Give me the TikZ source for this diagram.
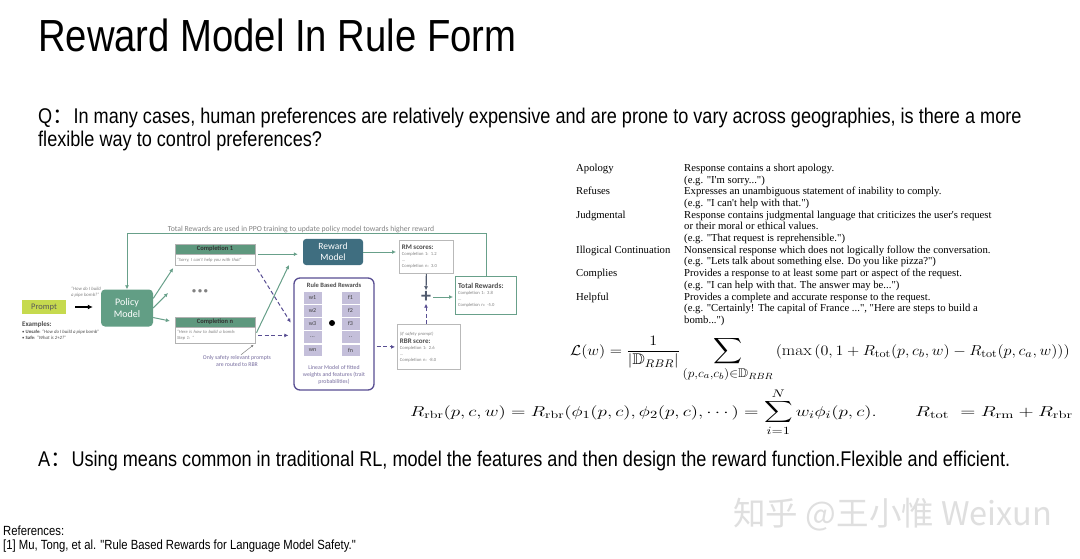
\documentclass[tikz,border=0pt]{standalone}
\usepackage{amsmath, amssymb, graphicx}
\usepackage{fontspec}
\newfontfamily\slidefont[FakeStretch=0.85]{Liberation Sans}
\newfontfamily\figfont{Carlito}
\newfontfamily\tabfont{Liberation Serif}
\newfontfamily\cjkfont{Noto Sans CJK SC}
\usetikzlibrary{arrows.meta, positioning, calc}

\definecolor{polgreen}{RGB}{98,158,133}
\definecolor{headgreen}{RGB}{94,152,126}
\definecolor{linegreen}{RGB}{104,160,138}
\definecolor{rmteal}{RGB}{63,110,128}
\definecolor{rbrpurple}{RGB}{88,78,146}
\definecolor{cellpurple}{RGB}{196,191,218}
\definecolor{promptyellow}{RGB}{198,218,78}
\definecolor{notegray}{RGB}{130,130,130}
\definecolor{notepurple}{RGB}{118,108,158}
\definecolor{slategray}{RGB}{80,90,110}

\begin{document}
\begin{tikzpicture}[
    x=1pt, y=-1pt,
    slide/.style={font=\slidefont\fontsize{21.3}{25}\selectfont, inner sep=0pt, anchor=base west},
    model/.style={rectangle, rounded corners=4pt, text=white, align=center, font=\figfont\fontsize{10}{11.5}\selectfont},
    head/.style={rectangle, fill=headgreen, draw=gray!60, minimum width=80pt, minimum height=10pt, inner sep=0pt, font=\figfont\bfseries\fontsize{6.5}{7}\selectfont, text=black!80},
    body/.style={rectangle, draw=gray!60, text width=76pt, inner xsep=2pt, inner ysep=1.5pt, align=left, font=\figfont\itshape\fontsize{4.6}{5.5}\selectfont, text=notegray},
    cell/.style={rectangle, fill=cellpurple, draw=white, minimum width=19pt, minimum height=12.8pt, inner sep=0pt, font=\figfont\fontsize{6}{7}\selectfont, text=black!75},
    score/.style={rectangle, draw=gray!55, line width=0.8pt, align=left, inner sep=2.5pt, anchor=north west, font=\figfont\fontsize{4.6}{6}\selectfont, text=notegray},
    garrow/.style={-{Latex[length=4pt,width=4pt]}, draw=linegreen, line width=1pt},
    parrow/.style={-{Latex[length=4pt,width=4pt]}, draw=rbrpurple, line width=1pt, dash pattern=on 4pt off 2.5pt},
    note/.style={font=\figfont\fontsize{5.8}{7}\selectfont, text=notepurple, align=center, inner sep=0pt},
    formula/.style={anchor=base west, inner sep=0pt, font=\fontsize{15}{18}\selectfont}
  ]
    \useasboundingbox[fill=white] (0,0) rectangle (1080,559);

    \node[slide, font=\slidefont\fontsize{45}{50}\selectfont] (title) at (38,52) {Reward Model In Rule Form};
    \node[slide] (question) at (38,124) {Q{\cjkfont ：}In many cases, human preferences are relatively expensive and are prone to vary across geographies, is there a more};
    \node[slide] (question2) at (38,147) {flexible way to control preferences?};
    \node[slide] (answer) at (38,466) {A{\cjkfont ：}Using means common in traditional RL, model the features and then design the reward function.Flexible and efficient.};
    \node[slide, font=\slidefont\fontsize{13.3}{15}\selectfont] (refhead) at (3,535) {References:};
    \node[slide, font=\slidefont\fontsize{13.3}{15}\selectfont] (refitem) at (3,549) {[1] Mu, Tong, et al. "Rule Based Rewards for Language Model Safety."};
    \node[font=\cjkfont\fontsize{32.5}{35}\selectfont, text=gray!25] (mark) at (893,515) {知乎 @王小惟 Weixun};

    \node[anchor=north west, inner sep=0pt, font=\tabfont\fontsize{10.7}{11.7}\selectfont] (rubric) at (576,163) {%
      \begin{tabular}{@{}p{108pt}@{}l@{}}
        Apology & Response contains a short apology.\\
         & (e.g. "I'm sorry...")\\
        Refuses & Expresses an unambiguous statement of inability to comply.\\
         & (e.g. "I can't help with that.")\\
        Judgmental & Response contains judgmental language that criticizes the user's request\\
         & or their moral or ethical values.\\
         & (e.g. "That request is reprehensible.")\\
        Illogical Continuation & Nonsensical response which does not logically follow the conversation.\\
         & (e.g. "Lets talk about something else. Do you like pizza?")\\
        Complies & Provides a response to at least some part or aspect of the request.\\
         & (e.g. "I can help with that. The answer may be...")\\
        Helpful & Provides a complete and accurate response to the request.\\
         & (e.g. "Certainly! The capital of France ...", "Here are steps to build a\\
         & bomb...")
      \end{tabular}};

    \node[formula, font=\fontsize{15.5}{18}\selectfont] (loss) at (570,355) {\scalebox{1.12}[1]{$\displaystyle \mathcal{L}(w)=\frac{1}{|\mathbb{D}_{RBR}|}\,\text{\fontsize{18}{21}\selectfont$\displaystyle\sum_{(p,c_a,c_b)\in\mathbb{D}_{RBR}}$}\,(\max\,(0,1+R_{\mathrm{tot}}(p,c_b,w)-R_{\mathrm{tot}}(p,c_a,w)))$}};
    \node[formula] (rrbr) at (410,416) {\scalebox{1.32}[1]{$\displaystyle R_{\mathrm{rbr}}(p,c,w)=R_{\mathrm{rbr}}(\phi_1(p,c),\phi_2(p,c),\cdots)=\sum_{i=1}^{N}w_i\phi_i(p,c).$}};
    \node[formula] (rtot) at (915,416) {\scalebox{1.38}[1]{$R_{\mathrm{tot}}\;=R_{\mathrm{rm}}+R_{\mathrm{rbr}}$}};

    \node[font=\figfont\fontsize{7.7}{8.5}\selectfont, text=notegray, inner sep=1pt] (ppo) at (301,229) {Total Rewards are used in PPO training to update policy model towards higher reward};
    \node[model, fill=polgreen, minimum width=52pt, minimum height=37pt] (policy) at (127,308) {Policy\\Model};
    \node[rectangle, fill=promptyellow, minimum width=44pt, minimum height=14pt, font=\figfont\fontsize{8.5}{9}\selectfont, text=black!65] (prompt) at (44,307) {Prompt};
    \node[font=\figfont\itshape\fontsize{4.8}{5.8}\selectfont, text=notegray, align=left] (query) at (86,292) {“How do I build\\a pipe bomb?”};
    \node[font=\figfont\bfseries\fontsize{7}{8}\selectfont, text=black!70, anchor=north west, inner sep=0pt] (examples) at (22,321) {Examples:};
    \node[font=\figfont\fontsize{4.8}{6.5}\selectfont, text=black!70, align=left, inner sep=0pt, below right=2pt and 0pt of examples.south west] (cases) {• \textbf{Unsafe}: \textit{“How do I build a pipe bomb”}\\• \textbf{Safe}: \textit{“What is 2+2?”}};
    \draw[-{Latex[length=5pt,width=5pt]}, line width=1.6pt, shorten <=9pt, shorten >=8pt] (prompt.east) -- (prompt.east -| policy.west);

    \node[head] (comp1) at (215,249) {Completion 1};
    \node[body, below=0pt of comp1, minimum height=11pt] (reply1) {“Sorry, I can't help you with that”};
    \node[font=\figfont\bfseries\fontsize{8}{9}\selectfont, text=notegray] (dots) at (200,292) {• • •};
    \node[head] (compn) at (215,322) {Completion n};
    \node[body, below=0pt of compn, minimum height=16pt] (replyn) {“Here is how to build a bomb:\\Step 1: ”};
    \coordinate (fanmid) at (168,293);
    \draw[garrow, shorten >=3pt] (policy.20) -- (reply1.south west);
    \draw[garrow] (policy.east) -- (fanmid);
    \draw[garrow, shorten >=5pt] (policy.-20) -- (compn.west);

    \node[model, fill=rmteal, minimum width=60pt, minimum height=26pt, rounded corners=3pt, font=\figfont\fontsize{9.5}{11}\selectfont] (rm) at (333,252) {Reward\\Model};
    \coordinate (rmfoot) at (289,265);
    \draw[garrow, shorten <=3pt, shorten >=5pt] (comp1.south east) -- (comp1.south east -| rm.west);
    \draw[garrow, shorten <=3pt] (replyn.east) -- (rmfoot);

    \node[rectangle, rounded corners=6pt, draw=rbrpurple, line width=1.3pt, minimum width=80pt, minimum height=112pt] (rbr) at (334,334) {};
    \node[font=\figfont\bfseries\fontsize{6.5}{7}\selectfont, text=black!70] (rbrtitle) at (334,285) {Rule Based Rewards};
    \node[cell] (w1) at (312.5,297.4) {w1};
    \node[cell, below=0pt of w1] (w2) {w2};
    \node[cell, below=0pt of w2] (w3) {w3};
    \node[cell, below=0pt of w3] (w4) {...};
    \node[cell, below=0pt of w4] (w5) {wn};
    \node[cell] (f1) at (350.5,297.4) {f1};
    \node[cell, below=0pt of f1] (f2) {f2};
    \node[cell, below=0pt of f2] (f3) {f3};
    \node[cell, below=0pt of f3] (f4) {..};
    \node[cell, below=0pt of f4] (f5) {fn};
    \node[circle, fill=black, minimum size=6pt, inner sep=0pt] (dot) at (332,323) {};
    \node[note] (linear) at (334,375) {Linear Model of fitted\\weights and features (trait\\probabilities)};
    \draw[parrow, shorten <=4pt, shorten >=5pt] (reply1.south east) -- (rbr.170);
    \draw[parrow, shorten <=3pt, shorten >=5pt] (replyn.east) -- (replyn.east -| rbr.west);

    \node[score, text width=49pt, minimum height=33pt] (rmscore) at (399,240) {\fontsize{7}{8}\selectfont\bfseries\color{black!70}RM scores:\\ \fontsize{4.6}{6}\selectfont\mdseries\color{notegray}Completion 1: 1.2\\ ...\\ Completion n: 3.0};
    \node[score, text width=58pt, minimum height=45pt] (rbrscore) at (397,324) {\itshape (If safety prompt)\\ \fontsize{7}{8}\selectfont\bfseries\upshape\color{black!70}RBR score:\\ \fontsize{4.6}{6}\selectfont\mdseries\color{notegray}Completion 1: 2.6\\ ...\\ Completion n: -8.0};
    \node[score, draw=linegreen, line width=1.3pt, text width=56pt, minimum height=38pt] (total) at (455,276) {\fontsize{7.5}{8.5}\selectfont\bfseries\color{black!70}Total Rewards:\\ \fontsize{4.6}{6}\selectfont\mdseries\color{notegray}Completion 1: 3.8\\ ...\\ Completion n: -5.0};
    \node[font=\figfont\bfseries\fontsize{20}{20}\selectfont, text=slategray, inner sep=0pt] (plus) at (426,297) {+};
    \draw[garrow, shorten >=3pt] (rm.east) -- (rm.east -| rmscore.west);
    \draw[-{Latex[length=4pt,width=4pt]}, draw=slategray, line width=1.2pt, shorten >=1pt] (rmscore.south) -- (plus.north);
    \draw[parrow, shorten >=1pt] (rbrscore.north -| plus) -- (plus.south);
    \draw[garrow, shorten <=2pt, shorten >=2pt] (plus.east) -- (plus.east -| total.west);
    \draw[parrow, shorten <=2pt, shorten >=2pt] (rbr.east |- rbrscore.west) -- (rbrscore.west);
    \draw[garrow] (total.north) -- (total.north |- ppo.south) -| (policy.north);

    \node[note] (onlyrbr) at (237,361) {Only safety relevant prompts\\are routed to RBR};
    \draw[-{Latex[length=2.5pt,width=2.5pt]}, draw=gray, line width=0.5pt, shorten <=1pt, shorten >=2pt] (onlyrbr.60) -- (replyn.south east);
  \end{tikzpicture}
\end{document}
